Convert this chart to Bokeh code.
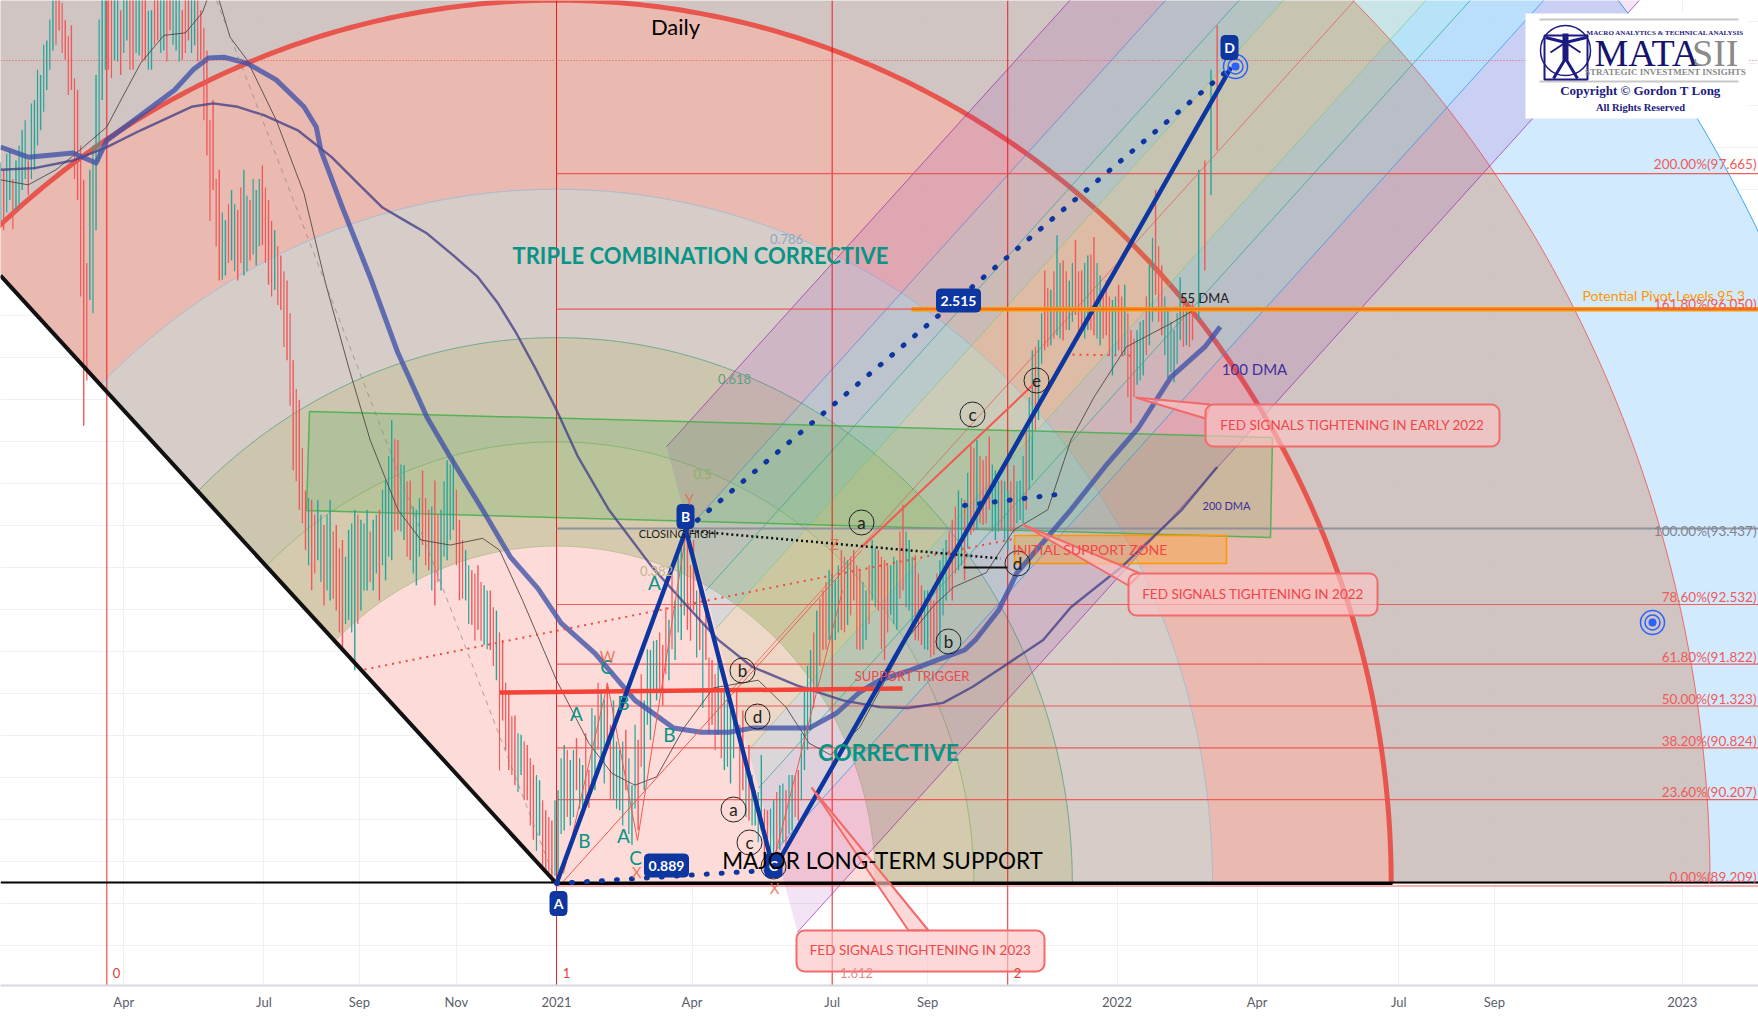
import numpy as np
from bokeh.plotting import figure
from bokeh.models import Range1d, FixedTicker
from bokeh.core.properties import value
from bokeh.embed import file_html
from bokeh.resources import INLINE

# ---------- chart data (time in days from 2021-01-01, y in price) ----------
tick_days = [-281, -190, -128, -65, 0, 88, 179, 241, 364, 455, 547, 609, 731]
tick_labels = ["Apr", "Jul", "Sep", "Nov", "2021", "Apr", "Jul", "Sep", "2022", "Apr", "Jul", "Sep", "2023"]
grid_prices = [88.47, 88.97, 89.47, 89.97, 90.47, 90.97, 91.47, 91.97, 92.47, 92.97, 93.47, 93.97,
               94.47, 94.97, 95.47, 95.97, 96.47, 96.97, 97.47, 97.97, 98.47, 98.97, 99.47]

fib_levels = [97.665, 96.050, 93.437, 92.532, 91.822, 91.323, 90.824, 90.207, 89.209]
fib_labels = ["200.00%(97.665)", "161.80%(96.050)", "100.00%(93.437)", "78.60%(92.532)", "61.80%(91.822)",
              "50.00%(91.323)", "38.20%(90.824)", "23.60%(90.207)", "0.00%(89.209)"]

bar_first_day = -363
bar_step = 4
bar_high = [97.94,97.71,97.94,97.82,98.18,97.82,98.54,98.84,99.25,99.73,99.85,99.49,99.43,98.66,97.59,97.71,98.84,99.97,99.97,99.97,
            99.61,99.97,99.97,99.85,99.97,99.61,99.97,99.85,99.97,99.73,99.61,99.97,99.73,99.61,99.13,98.54,97.71,97.11,97.47,97.23,
            97.71,97.35,97.47,97.76,97.35,96.99,96.69,96.39,95.44,94.97,93.89,93.78,93.78,93.48,93.78,93.48,93.30,93.42,93.66,93.54,
            93.66,93.54,93.66,94.01,94.73,94.49,94.19,94.01,93.66,94.13,93.66,94.01,93.66,94.25,94.29,93.54,93.18,92.94,93.00,92.76,
            92.70,92.46,92.11,91.51,91.21,90.98,90.86,90.62,90.44,90.08,89.96,90.32,90.86,90.68,90.94,90.62,90.56,91.21,91.51,91.60,
            91.39,90.80,91.04,90.38,90.92,91.39,91.99,92.11,92.05,92.35,92.58,93.24,93.36,93.30,92.82,92.58,91.87,91.87,91.51,91.39,
            91.51,91.27,90.86,90.32,90.74,90.08,90.20,90.38,90.32,90.50,90.56,91.51,91.99,92.46,92.70,92.94,92.82,93.18,93.06,93.18,
            92.94,92.70,93.30,93.18,93.06,93.00,93.06,93.72,93.30,93.12,92.76,92.70,92.58,93.06,93.30,93.54,93.89,93.78,94.43,94.49,
            94.25,94.53,94.13,94.01,93.89,94.19,94.01,94.61,95.56,95.68,96.51,96.28,96.93,96.63,96.39,96.87,96.51,96.69,96.91,96.45,
            96.39,96.16,96.34,96.34,95.80,95.80,95.92,96.57,97.47,96.57,96.04,95.80,96.43,96.04,96.16,97.71,97.82,98.90,99.43]
bar_low = [97.17,96.99,97.35,97.23,97.47,97.41,97.71,98.18,98.66,99.13,99.37,99.02,98.66,97.35,94.66,96.16,96.99,98.54,98.90,99.02,
           98.84,99.25,98.90,99.07,99.02,98.90,99.25,99.13,99.37,99.13,99.02,99.25,99.19,99.02,97.88,97.47,96.39,96.45,96.63,96.39,
           96.45,96.63,96.57,96.81,96.34,96.28,96.04,95.44,94.13,93.66,93.18,92.70,93.06,92.52,92.58,92.46,91.99,92.35,91.75,92.46,
           92.70,92.70,92.58,92.82,93.06,93.42,93.30,93.06,92.76,93.24,92.94,92.52,92.70,93.06,93.42,92.58,92.58,92.29,92.23,92.05,
           91.99,91.63,91.15,90.56,90.38,90.50,90.20,89.73,89.78,89.37,89.21,89.25,89.84,89.90,90.32,90.02,90.11,90.32,90.68,90.92,
           90.20,90.08,90.32,89.67,89.84,90.32,90.92,91.39,91.33,91.63,91.87,92.11,92.23,92.46,91.99,91.87,91.10,90.98,90.56,90.40,
           91.04,90.32,89.96,89.90,89.84,89.49,89.43,89.61,89.67,89.84,89.96,90.56,91.04,91.51,91.99,92.11,92.11,92.23,92.29,92.58,
           91.99,92.11,92.58,92.46,91.87,92.41,92.23,92.70,92.46,92.11,92.05,91.99,91.93,91.99,92.58,92.58,92.94,92.82,93.36,93.42,
           93.48,93.66,93.30,93.42,93.18,93.39,93.54,93.66,94.01,94.73,95.56,95.62,95.74,95.68,95.80,95.98,95.80,95.80,95.74,95.62,
           95.74,95.26,95.56,95.50,94.69,95.15,95.26,95.62,96.22,95.74,95.23,95.18,95.68,95.62,95.68,95.92,96.51,97.41,97.94]
bar_dir = ("trtttrtttt" "rrrrrtttrt" "rtrtrtrtrt" "rrtrrrrttr" "trtrrtrrrr" "rrtrtrrttt" "ttrttrtrtr" "rrtttrtrrt"
           "rtrrrtrrtr" "rtttrtrttr" "ttrtrtttrt" "ttrrrrrttt" "rrrttrttrt" "rtttrttrtr" "rttrrttrtr" "rtrttrtrrt"
           "rrtrtrtrtt" "rttrtrrtrt" "rtrtrtttrr" "ttttrtrtr")

# sessions between the ones above
bar2_first_day = -361
bar2_high = [97.8,97.9,97.6,98.0,98.3,98.5,98.9,99.2,99.5,99.9,99.7,99.3,98.8,98.0,96.6,98.0,99.5,99.9,99.8,99.9,99.9,99.9,99.9,99.9,99.6,99.9,99.9,99.9,99.9,99.8,99.9,99.9,99.9,99.4,
             98.3,97.6,97.2,97.3,97.3,97.5,97.4,97.6,97.6,97.5,97.1,96.8,96.5,96.0,
             95.1,94.4,93.8,93.6,93.6,93.6,93.4,93.2,93.1,93.5,93.6,93.5,93.4,93.6,93.9,94.3,94.5,94.2,94.0,93.7,93.8,93.8,93.7,93.6,94.0,94.2,93.9,93.3,93.0,92.9,92.8,92.7,
             92.5,92.2,91.6,91.2,91.0,90.9,90.7,90.5,90.2,90.0,90.2,90.7,90.8,90.8,90.7,91.0,91.3,91.6,91.4,91.1,90.9,90.9,90.7,91.1,91.7,92.0,92.1,92.2,92.5,92.9,93.1,
             93.3,93.0,92.7,92.3,91.9,91.7,91.5,91.4,91.3,91.1,90.6,90.5,90.3,90.1,90.1,90.3,90.4,90.5,90.5,91.0,91.8,92.2,92.6,92.8,92.9,93.0,93.1,93.1,93.0,92.8,93.0,93.2,93.1,93.0,93.1,93.4,93.4,93.1,92.9,92.7,92.6,92.9,93.2,93.4,93.7,93.8,94.1,94.4,94.3,94.3,94.2,94.0,94.0,94.0,94.0,94.3,95.0,95.6,96.0,96.3,96.5,96.6,96.5,96.6,96.5,96.6,96.7,96.6,96.3,96.2,96.2,96.2,96.0,95.7,95.9,96.2,96.9,96.8,96.2,95.9,96.0,96.2,96.1]
bar2_low = [97.1,97.2,97.0,97.3,97.6,97.6,98.0,98.4,98.9,99.2,99.1,98.6,97.6,96.2,95.2,96.0,97.8,98.9,98.8,99.0,99.1,98.9,99.1,99.0,98.9,99.2,99.1,99.0,99.2,99.0,99.1,99.1,99.0,98.3,
            97.1,96.8,96.4,96.6,96.5,96.6,96.5,96.7,96.8,96.6,96.2,96.1,95.6,94.9,
            94.0,93.5,93.0,92.9,92.8,92.7,92.6,92.2,92.3,92.2,92.3,92.7,92.8,92.9,93.0,93.1,93.4,93.4,93.1,92.9,93.1,93.0,92.7,92.8,93.1,93.3,93.0,92.6,92.3,92.1,92.1,92.0,
            91.8,91.3,90.8,90.5,90.3,90.2,89.9,89.6,89.4,89.3,89.3,89.8,90.0,90.0,90.1,90.2,90.4,90.8,90.4,90.2,90.1,89.9,89.8,90.1,90.6,91.1,91.5,91.5,91.7,92.0,92.2,
            92.4,92.1,91.9,91.3,91.0,90.8,90.7,90.6,90.7,90.2,90.0,89.9,89.7,89.5,89.4,89.5,89.7,89.8,90.0,90.2,90.8,91.3,91.8,92.0,92.1,92.2,92.2,92.4,92.0,92.0,92.3,92.5,92.0,92.2,92.3,92.6,92.5,92.2,92.1,92.0,91.9,92.0,92.4,92.7,92.9,93.0,93.2,93.4,93.5,93.5,93.4,93.4,93.3,93.4,93.5,93.5,93.9,94.6,95.4,95.6,95.7,95.7,95.8,95.9,95.7,95.7,95.8,95.7,95.7,95.5,95.5,95.5,95.0,95.0,95.2,95.5,95.9,95.9,95.5,95.3,95.4,95.6,95.6]
bar2_dir = ("ttrttttttrrrrrrtttrttrtrtrtrttrtrr"
            "rrtrtrtttr" "rrrr"
            "rrtrttrrttrtrtttrtrttrtrttrrtrrt"
            "rrrrtrrtrrttrttrtrtrttttrtt"
            "rrrttrttrrrttrtttrtrttrttrrrttrrrtrtrrtrttrtrrtrrttrrrttt"
            "rtttrtrrtrtrtrtrrtrrrtrtrtttrrtttrr")

ma100_day = [-361,-343,-314,-299,-292,-270,-248,-236,-226,-216,-201,-182,-164,-156,-153,-146,-139,-121,-103,-84,-69,-48,-30,-12,3,25,51,64,76,94,112,127,164,182,197,210,230,247,265,272,287,299,334,356,378,399,421,431]
ma100_val = [97.98,97.86,97.91,97.79,98.06,98.36,98.66,98.90,99.04,99.05,98.98,98.78,98.46,98.22,97.94,97.60,97.26,96.43,95.53,94.76,94.29,93.66,93.10,92.72,92.31,91.95,91.39,91.22,91.06,91.01,91.01,91.06,91.06,91.24,91.49,91.63,91.75,91.87,91.99,92.11,92.46,92.91,93.66,94.17,94.64,95.24,95.60,95.84]
ma200_day = [-361,-339,-314,-292,-270,-237,-223,-207,-190,-168,-146,-128,-113,-99,-84,-67,-51,-38,-26,-13,0,14,34,62,83,105,127,156,186,210,228,251,270,290,316,334,367,406,429]
ma200_val = [97.71,97.73,97.82,97.98,98.18,98.46,98.50,98.46,98.36,98.18,97.86,97.53,97.26,97.11,96.95,96.69,96.43,96.12,95.76,95.32,94.85,94.29,93.66,92.98,92.55,92.11,91.79,91.57,91.39,91.31,91.30,91.36,91.55,91.79,92.11,92.50,92.98,93.66,94.17]
ma55_day = [-361,-343,-325,-311,-292,-284,-270,-255,-241,-230,-227,-221,-212,-201,-182,-164,-150,-135,-121,-103,-88,-69,-48,-37,-22,0,21,36,51,65,83,102,131,149,164,178,197,210,227,245,258,279,297,319,334,349,370,399,414]
ma55_val = [97.59,97.53,97.71,97.92,98.22,98.50,98.98,99.31,99.34,99.58,99.73,99.85,99.29,99.02,98.30,97.43,96.36,95.36,94.49,93.66,93.30,93.24,93.32,93.18,92.58,91.63,90.88,90.52,90.38,90.48,91.07,91.54,91.63,91.31,90.88,90.74,91.07,91.51,92.11,92.52,92.74,92.91,93.42,93.66,94.49,95.00,95.60,95.88,96.04]

# pattern turning points A, B, C, D
abcd_day = [0, 84, 141, 438]
abcd_val = [89.209, 93.42, 89.37, 98.93]

# Fibonacci arcs
arc_ratio = [0.382, 0.5, 0.618, 0.786, 1.0, 1.382, 1.618]
arc_fill = ["#fcd8d5", "#d2c6a8", "#c8c2a8", "#d3c8c4", "#e8b5ab", "#ccc1bd", "#cfe8fd"]
arc_line = ["#b9b98e", "#8db06a", "#5f9f82", "#9fb6cf", "#e84f48", "#ef5350", "#2196f3"]
arc_width = [1, 1, 1, 1, 5, 1, 1]
arc_center_day, arc_center_val = 0, 89.209
arc_radius_day, arc_radius_val = 542.0, 10.52
fan_edge_day, fan_edge_val = -361, 96.45

# pitchfork
fork_top = (71.4, 94.41)
fork_bottom = (156.5, 88.63)
fork_slope = 0.0203
fork_levels = [-1.0, -0.664, -0.406, -0.25, 0.0, 0.25, 0.406, 0.664, 1.0]
fork_fill = ["#9c27b0", "#2196f3", "#00bcd4", "#8bc34a", "#8bc34a", "#00bcd4", "#2196f3", "#9c27b0"]
fork_line = ["#9c27b0", "#5b7fd6", "#26a69a", "#81c784", "#ef5350", "#81c784", "#26a69a", "#2196f3", "#9c27b0"]

time_zone_day = [-292, 0, 179, 293]

# ---------- page mapping ----------
PX_DAY, PX_VAL = 1.54, 83.96
def X(px): return (px - 556) / PX_DAY
def Y(py): return 89.209 + (883 - py) / PX_VAL

p = figure(frame_width=1758, frame_height=985, output_backend="svg", toolbar_location=None,
           x_range=Range1d(X(0), X(1758)), y_range=Range1d(Y(985), Y(0)), min_border=0,
           background_fill_color="white", border_fill_color="white", outline_line_color=None)
p.yaxis.visible = False
p.xaxis.ticker = FixedTicker(ticks=tick_days)
p.xaxis.major_label_overrides = dict(zip(tick_days, tick_labels))
p.xaxis.major_tick_line_color = None
p.xaxis.minor_tick_line_color = None
p.xaxis.major_tick_out = 0
p.xaxis.major_tick_in = 0
p.xaxis.axis_line_color = "#d6d8de"
p.xaxis.axis_line_width = 2
p.xaxis.major_label_text_font = "Lato"
p.xaxis.major_label_text_font_size = "13px"
p.xaxis.major_label_text_color = "#5a5e6b"
p.xaxis.major_label_standoff = 8
p.xgrid.ticker = FixedTicker(ticks=tick_days)
p.ygrid.ticker = FixedTicker(ticks=grid_prices)
p.grid.grid_line_color = "#eef0f5"
p.grid.grid_line_width = 1

# ---------- Fibonacci arc fan ----------
tmax = np.arctan2((fan_edge_val - arc_center_val) / arc_radius_val, (fan_edge_day - arc_center_day) / arc_radius_day)
t = np.linspace(0, tmax, 240)
def arc_xy(r):
    return arc_center_day + r * arc_radius_day * np.cos(t), arc_center_val + r * arc_radius_val * np.sin(t)
prev = 0.0
for r, col in zip(arc_ratio, arc_fill):
    xo, yo = arc_xy(r)
    xi, yi = arc_xy(prev)
    p.patch(np.r_[xo, xi[::-1]], np.r_[yo, yi[::-1]], fill_color=col, fill_alpha=0.93, line_color=None)
    prev = r
for r, col, w in zip(arc_ratio, arc_line, arc_width):
    xo, yo = arc_xy(r)
    p.line(xo, yo, line_color=col, line_width=w, line_alpha=0.95 if w > 1 else 0.85)

# ---------- pitchfork ----------
def fork_start(s):
    f = (s + 1) / 2
    return fork_top[0] + f * (fork_bottom[0] - fork_top[0]), fork_top[1] + f * (fork_bottom[1] - fork_top[1])
LEN = 900
for i, col in enumerate(fork_fill):
    a = fork_start(fork_levels[i])
    b = fork_start(fork_levels[i + 1])
    p.patch([a[0], a[0] + LEN, b[0] + LEN, b[0]],
            [a[1], a[1] + LEN * fork_slope, b[1] + LEN * fork_slope, b[1]],
            fill_color=col, fill_alpha=0.13, line_color=None)
for s, col in zip(fork_levels, fork_line):
    a = fork_start(s)
    p.line([a[0], a[0] + LEN], [a[1], a[1] + LEN * fork_slope], line_color=col, line_width=1, line_alpha=0.7)

# ---------- zones ----------
p.patch([X(309), X(1272), X(1270), X(306)], [Y(411), Y(437), Y(537), Y(510)],
        fill_color="#4caf50", fill_alpha=0.2, line_color="#4caf50", line_width=1.5, line_alpha=0.9)
p.quad(left=X(1014), right=X(1226), top=Y(535), bottom=Y(563), fill_color="#ff9800", fill_alpha=0.3,
       line_color="#ff9800", line_width=1.5)

# ---------- time zones and Fibonacci levels ----------
for d in time_zone_day:
    p.segment(d, Y(0), d, Y(985), line_color="#f00000", line_width=1, line_alpha=0.85)
for lv in fib_levels:
    grey = lv == 93.437
    p.segment(0, lv + (0 if lv != 89.209 else -0.03), X(1758), lv + (0 if lv != 89.209 else -0.03),
              line_color="#8a8d98" if grey else "#ef4f4f", line_width=2 if grey else 1.2, line_alpha=0.9)

# ---------- price bars ----------
n = min(len(bar_low), len(bar_high), len(bar_dir))
bar_day = [bar_first_day + bar_step * k for k in range(n)]
bar_col = ["#26a69a" if c == "t" else "#f0585a" for c in bar_dir[:n]]
p.segment(bar_day, bar_low[:n], bar_day, bar_high[:n], line_color=bar_col, line_width=1.4)
n2 = min(len(bar2_low), len(bar2_high), len(bar2_dir))
bar2_day = [bar2_first_day + bar_step * k for k in range(n2)]
bar2_col = ["#26a69a" if c == "t" else "#f0585a" for c in bar2_dir[:n2]]
p.segment(bar2_day, bar2_low[:n2], bar2_day, bar2_high[:n2], line_color=bar2_col, line_width=1.2)

# ---------- moving averages ----------
p.line(ma55_day, ma55_val, line_color="#4e3f3f", line_width=1, line_alpha=0.85, line_join="round")
p.line(ma200_day, ma200_val, line_color="#433f86", line_width=2.4, line_alpha=0.78, line_join="round")
p.line(ma100_day, ma100_val, line_color="#3f51a8", line_width=5, line_alpha=0.78, line_join="round")

# ---------- trend / pattern lines ----------
p.line([X(216), X(556)], [Y(0), Y(883)], line_color="#888888", line_width=1, line_dash="5 5", line_alpha=0.7)
p.line([X(364), X(1015)], [Y(669), Y(538)], line_color="#f04a3f", line_width=2, line_dash="2 5")
p.line([X(1065), X(1135)], [Y(354), Y(355)], line_color="#f04a3f", line_width=2, line_dash="2 5")
p.segment(X(0), Y(60), X(1758), Y(60), line_color="#e85a5a", line_width=1, line_dash="1 2")
p.line([X(561), X(861)], [Y(883), Y(550)], line_color="#f4574f", line_width=1)
p.line([X(861), X(1036)], [Y(547), Y(381)], line_color="#f4574f", line_width=2)
p.line([X(563), X(607), X(637), X(686)], [Y(873), Y(683), Y(840), Y(530)], line_color="#f4574f", line_width=1)
p.line([X(774), X(842)], [Y(857), Y(590)], line_color="#f4574f", line_width=1)
p.segment(X(499), Y(692), X(902), Y(688), line_color="#f44336", line_width=4.5)
p.segment(X(499), Y(692), X(499), Y(770), line_color="#f4574f", line_width=1)
p.line([X(686), X(1000)], [Y(530), Y(558)], line_color="#111111", line_width=2.5, line_dash="2 3")
p.segment(X(963), Y(567), X(1007), Y(567), line_color="#111111", line_width=2)

p.segment(X(0), Y(882), X(1758), Y(882), line_color="#000000", line_width=2.2)
p.segment(X(556), Y(883), X(1392), Y(883), line_color="#000000", line_width=3.2)
p.line([fan_edge_day, arc_center_day], [fan_edge_val, arc_center_val], line_color="#111111", line_width=4)

p.line(abcd_day, abcd_val, line_color="#0d36a0", line_width=4.5)
p.line([abcd_day[0], abcd_day[2]], [abcd_val[0], abcd_val[2]], line_color="#0d36a0", line_width=5, line_dash="1 14", line_cap="round")
p.line([abcd_day[1], abcd_day[3]], [abcd_val[1], abcd_val[3]], line_color="#0d36a0", line_width=5, line_dash="1 14", line_cap="round")
p.line([X(964), X(1065)], [Y(505), Y(493)], line_color="#0d36a0", line_width=5, line_dash="1 14", line_cap="round")

# pivot level
p.segment(X(911), 96.05, X(1758), 96.05, line_color="#ff9800", line_width=4.5)
p.segment(X(911), 96.05, X(1758), 96.05, line_color="#ef4f2f", line_width=1)

# ---------- text helper ----------
def txt(px, py, s, color="#000000", size=14, align="center", font="Lato", style="normal", alpha=1.0):
    p.text([X(px)], [Y(py)], text=[s], text_color=color, text_font_size=f"{size}px", text_align=align,
           text_baseline="middle", text_font=value(font), text_font_style=style, text_alpha=alpha)

# ---------- callouts ----------
CAL_LINE, CAL_FILL = "#f26a6a", "#fbc3c3"
def callout(l, r, t_, b, tip, a, c, s):
    p.patch([X(a[0]), X(tip[0]), X(c[0])], [Y(a[1]), Y(tip[1]), Y(c[1])], fill_color=CAL_FILL, fill_alpha=0.65,
            line_color=CAL_LINE, line_width=2)
    p.quad(left=X(l), right=X(r), top=Y(t_), bottom=Y(b), fill_color=CAL_FILL, fill_alpha=0.65,
           line_color=CAL_LINE, line_width=2, border_radius=8)
    txt((l + r) / 2, (t_ + b) / 2 - 1, s, color="#f0474a", size=13.5)

callout(1205, 1499, 404, 446, (1135, 397), (1210, 404), (1205, 418), "FED SIGNALS TIGHTENING IN EARLY 2022")
callout(1128, 1377, 573, 615, (1022, 524), (1140, 573), (1128, 585), "FED SIGNALS TIGHTENING IN 2022")
callout(796, 1044, 930, 971, (811, 787), (928, 930), (908, 930), "FED SIGNALS TIGHTENING IN 2023")

# ---------- blue tags ----------
BLUE = "#0d36a0"
def tag(cx, cy, w, h, s, size=14):
    p.quad(left=X(cx - w / 2), right=X(cx + w / 2), top=Y(cy - h / 2), bottom=Y(cy + h / 2), fill_color=BLUE,
           line_color=BLUE, border_radius=4)
    txt(cx, cy, s, color="#ffffff", size=size, style="bold")

# ---------- target rings ----------
for cx, cy in [(1235, 66), (1652, 622)]:
    p.scatter([X(cx)], [Y(cy)], size=24, marker="circle", fill_color=None, line_color="#2962ff", line_width=1.5)
    p.scatter([X(cx)], [Y(cy)], size=15, marker="circle", fill_color=None, line_color="#2962ff", line_width=1.5)
    p.scatter([X(cx)], [Y(cy)], size=8, marker="circle", fill_color="#2962ff", line_color=None)

# ---------- circled wave marks ----------
for cx, cy, s in [(861, 522, "a"), (972, 414, "c"), (1036, 380, "e"), (948, 641, "b"), (1017, 563, "d"),
                  (742, 670, "b"), (757, 716, "d"), (733, 809, "a"), (749, 842, "c"), (773, 866, "")]:
    p.scatter([X(cx)], [Y(cy)], size=25, marker="circle", fill_color=None, line_color="#222222", line_width=1)
    if s:
        txt(cx, cy, s, color="#222222", size=17)

tag(558, 903, 17, 24, "A")
tag(685, 516, 17, 24, "B")
tag(773, 865, 17, 24, "C")
tag(1229, 47, 17, 24, "D")
tag(958, 300, 44, 23, "2.515")
tag(666, 865, 44, 23, "0.889")

# ---------- wave letters ----------
TEAL = "#089486"
for cx, cy, s in [(606, 666, "C"), (576, 713, "A"), (623, 702, "B"), (669, 734, "B"), (623, 835, "A"),
                  (635, 857, "C"), (584, 840, "B"), (654, 582, "A")]:
    txt(cx, cy, s, color=TEAL, size=19)
for cx, cy, s in [(607, 655, "W"), (636, 871, "X"), (774, 887, "X"), (834, 543, "Z"), (689, 498, "Y")]:
    txt(cx, cy, s, color="#f0654a", size=15, alpha=0.85)

# ---------- labels ----------
txt(675, 26, "Daily", size=22)
txt(700, 255, "TRIPLE COMBINATION CORRECTIVE", color=TEAL, size=22, style="bold")
txt(888, 751, "CORRECTIVE", color=TEAL, size=23, style="bold")
txt(882, 860, "MAJOR LONG-TERM SUPPORT", size=22.5)
txt(1582, 295, "Potential Pivot Levels 95.3", color="#ff9800", size=14, align="left")
txt(1204, 297, "55 DMA", color="#222222", size=13)
txt(1254, 368, "100 DMA", color="#3f2f9a", size=15)
txt(1226, 505, "200 DMA", color="#3f2f9a", size=11)
txt(677, 533, "CLOSING HIGH", color="#222222", size=11)
txt(912, 675, "SUPPORT TRIGGER", color="#f0474a", size=13)
txt(1090, 549, "INITIAL SUPPORT ZONE", color="#f0474a", size=14)
txt(786, 238, "0.786", color="#8fa8c8", size=13)
txt(734, 378, "0.618", color="#5f9f82", size=13)
txt(702, 473, "0.5", color="#8db06a", size=13)
txt(656, 570, "0.382", color="#b9b98e", size=13)
for d, lab, col in [(116, "0", "#e53935"), (566, "1", "#e53935"), (856, "1.612", "#e58a8a"), (1017, "2", "#e53935")]:
    txt(d, 972, lab, color=col, size=13)

fib_label_y = [163, 303, 530, 596, 656, 698, 740, 791, 876]
for lv_y, lab, lv in zip(fib_label_y, fib_labels, fib_levels):
    txt(1756, lv_y, lab, color="#80838f" if lv == 93.437 else "#ef5a5a", size=13.5, align="right")

# ---------- logo ----------
p.quad(left=X(1525), right=X(1748), top=Y(13), bottom=Y(118), fill_color="#ffffff", line_color=None)
NAVY = "#1c1a80"
p.segment(X(1539), Y(19), X(1738), Y(19), line_color="#c8c8c8", line_width=2)
p.segment(X(1539), Y(81), X(1738), Y(81), line_color="#c8c8c8", line_width=2)
p.scatter([X(1565)], [Y(50)], size=50, marker="circle", fill_color=None, line_color=NAVY, line_width=1.5)
p.quad(left=X(1544), right=X(1587), top=Y(35), bottom=Y(79), fill_color=None, line_color=NAVY, line_width=2)
p.line([X(1565), X(1565)], [Y(33), Y(60)], line_color=NAVY, line_width=6)
p.line([X(1545), X(1565), X(1586)], [Y(37), Y(42), Y(37)], line_color=NAVY, line_width=3)
p.line([X(1550), X(1565), X(1580)], [Y(52), Y(42), Y(52)], line_color=NAVY, line_width=2)
p.line([X(1553), X(1565), X(1577)], [Y(78), Y(58), Y(78)], line_color=NAVY, line_width=3)
txt(1665, 32, "MACRO ANALYTICS & TECHNICAL ANALYSIS", color=NAVY, size=7, font="Liberation Serif", style="bold")
txt(1594, 52, "MATA", color="#14146e", size=38, font="Liberation Serif", align="left")
txt(1738, 52, "SII", color="#8a8a8a", size=38, font="Liberation Serif", align="right")
txt(1665, 71, "STRATEGIC INVESTMENT INSIGHTS", color="#8a8a8a", size=9, font="Liberation Serif", style="bold")
txt(1640, 90, "Copyright \u00a9 Gordon T Long", color=NAVY, size=13, font="Liberation Serif", style="bold")
txt(1640, 107, "All Rights Reserved", color=NAVY, size=10.5, font="Liberation Serif", style="bold")

open("out.html", "w").write(file_html(p, INLINE))
